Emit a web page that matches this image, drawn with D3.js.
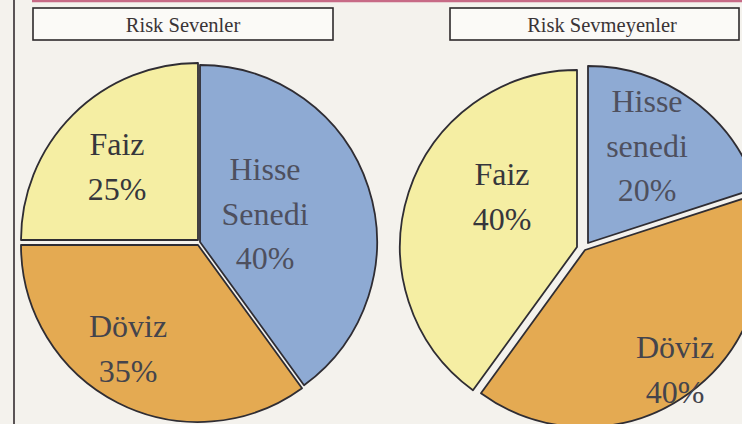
<!DOCTYPE html>
<html>
<head>
<meta charset="utf-8">
<script src="https://cdn.jsdelivr.net/npm/d3@7"></script>
<style>
  html, body { margin: 0; padding: 0; background: #f4f2ed; }
  svg { display: block; }
</style>
</head>
<body>
<svg id="chart" width="742" height="424"></svg>
<script>
// ---- Data ----
const titles = ["Risk Sevenler", "Risk Sevmeyenler"];
const categories = ["Hisse Senedi", "Döviz", "Faiz"];
const leftValues = [40, 35, 25];
const rightValues = [20, 40, 40];
const leftLabels = [["Hisse", "Senedi", "40%"], ["Döviz", "35%"], ["Faiz", "25%"]];
const rightLabels = [["Hisse", "senedi", "20%"], ["Döviz", "40%"], ["Faiz", "40%"]];

// ---- Layout / style (not data) ----
const W = 742, H = 424;
const colors = { "Hisse Senedi": "#8eaad3", "Döviz": "#e4aa52", "Faiz": "#f5eea3" };
const textColors = { "Hisse Senedi": "#4e505e", "Döviz": "#44444c", "Faiz": "#36363c" };
const charts = [
  { title: titles[0], values: leftValues, labels: leftLabels,
    box: [33, 8, 300, 32], titleX: 183,
    center: [200, 242], r: 177,
    explode: [[0, 0], [-2, 3], [-2, -2]],
    labelPos: [[65, -62], [-72, 95], [-83, -87]] },
  { title: titles[1], values: rightValues, labels: rightLabels,
    box: [450, 8, 289, 32], titleX: 602,
    center: [585, 250], r: 177,
    explode: [[3, -7], [0, 0], [-8, -3]],
    labelPos: [[62, -138], [90, 108], [-83, -65]] }
];
const lineH = 44.5;

const svg = d3.select("#chart");
svg.append("rect").attr("width", W).attr("height", H).attr("fill", "#f4f2ed");

// frame lines
svg.append("line").attr("x1", 32).attr("x2", W).attr("y1", 1).attr("y2", 1)
  .attr("stroke", "#c76a86").attr("stroke-width", 2.5);
svg.append("line").attr("x1", 14).attr("x2", 14).attr("y1", 0).attr("y2", H)
  .attr("stroke", "#5a5456").attr("stroke-width", 2);

const pie = d3.pie().sort(null).value(d => d.value);
const arc = d3.arc().innerRadius(0);

charts.forEach(ch => {
  // title box
  svg.append("rect")
    .attr("x", ch.box[0]).attr("y", ch.box[1])
    .attr("width", ch.box[2]).attr("height", ch.box[3])
    .attr("fill", "#fbfaf7").attr("stroke", "#2e2a2b").attr("stroke-width", 1.6);
  svg.append("text")
    .attr("x", ch.titleX).attr("y", ch.box[1] + 24)
    .attr("text-anchor", "middle")
    .attr("font-family", "'Liberation Serif', 'Times New Roman', serif")
    .attr("font-size", 20.5)
    .attr("fill", "#3a3436")
    .text(ch.title);

  const data = categories.map((c, i) => ({ cat: c, value: ch.values[i], idx: i }));
  const arcs = pie(data);
  arc.outerRadius(ch.r);

  const g = svg.append("g").attr("transform", `translate(${ch.center[0]},${ch.center[1]})`);
  g.selectAll("path.slice")
    .data(arcs)
    .join("path")
    .attr("class", "slice")
    .attr("transform", d => `translate(${ch.explode[d.data.idx][0]},${ch.explode[d.data.idx][1]})`)
    .attr("d", arc)
    .attr("fill", d => colors[d.data.cat])
    .attr("stroke", "#2f2d33")
    .attr("stroke-width", 1.8)
    .attr("stroke-linejoin", "round");

  // labels (first-line baseline given relative to pie centre)
  arcs.forEach(d => {
    const lines = ch.labels[d.data.idx];
    const p = ch.labelPos[d.data.idx];
    const t = g.append("text")
      .attr("text-anchor", "middle")
      .attr("font-family", "'Liberation Serif', 'Times New Roman', serif")
      .attr("font-size", 32)
      .attr("fill", textColors[d.data.cat]);
    lines.forEach((ln, k) => {
      t.append("tspan")
        .attr("x", p[0])
        .attr("y", p[1] + k * lineH)
        .text(ln);
    });
  });
});
</script>
</body>
</html>
